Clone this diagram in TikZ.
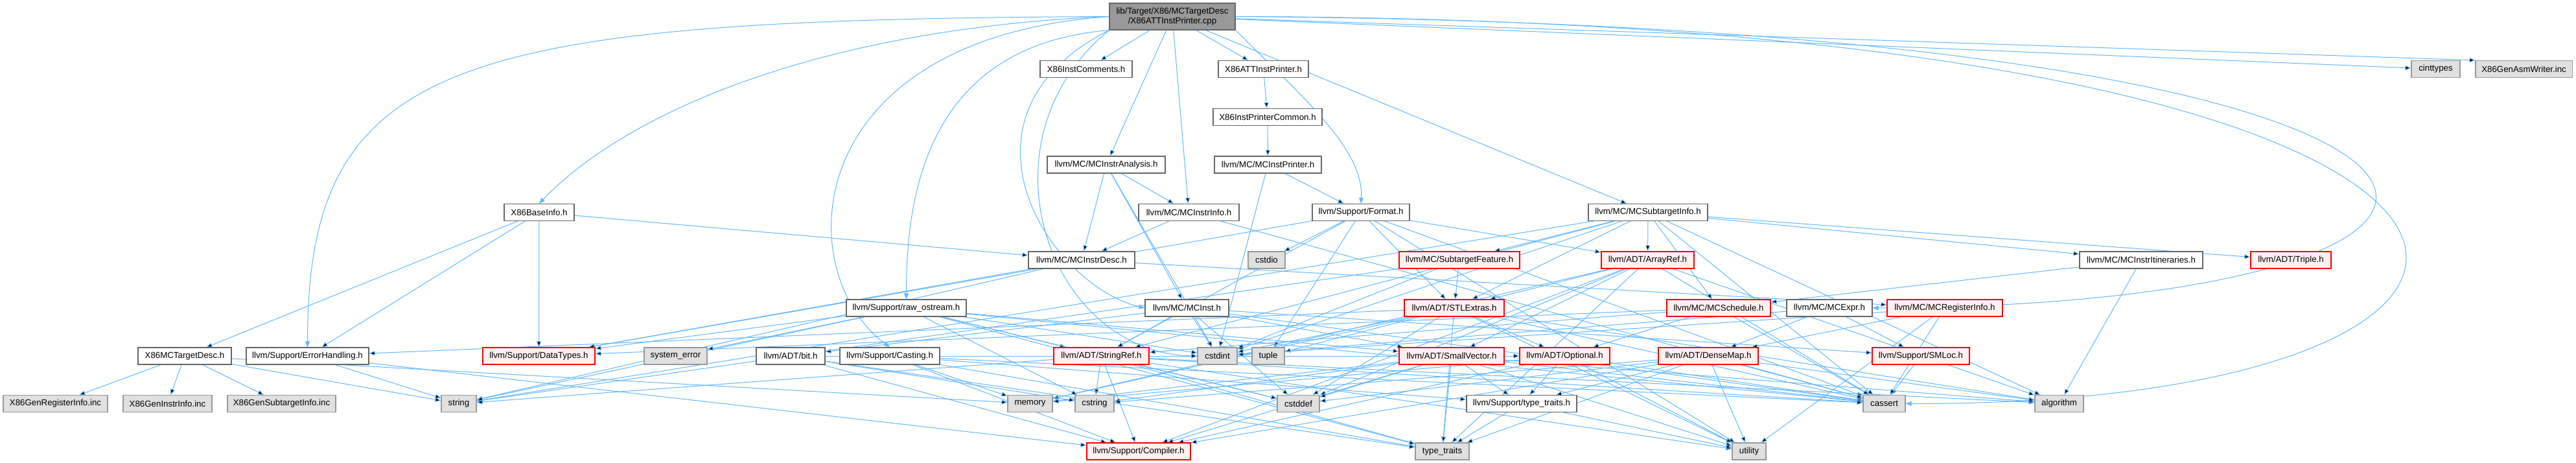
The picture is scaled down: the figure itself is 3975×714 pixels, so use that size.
\documentclass[tikz,border=0pt]{standalone}
\usepackage{fontspec}
\setmainfont{Liberation Sans}
\usepackage{tikz}
\usetikzlibrary{arrows.meta}
\definecolor{depline}{HTML}{63B8FF}
\definecolor{boxline}{HTML}{666666}
\definecolor{sysline}{HTML}{999999}
\definecolor{sysfill}{HTML}{E0E0E0}
\definecolor{srcfill}{HTML}{999999}
\definecolor{cutfill}{HTML}{FFF0F0}
\pgfdeclarelayer{back}
\pgfsetlayers{back,main}

\begin{document}
\begin{tikzpicture}[x=1pt,y=1pt,font=\fontsize{13.3}{15.5}\selectfont,
  hdr/.style={draw=boxline,fill=white,line width=1.1pt,minimum height=26pt,
              inner sep=0pt},
  sys/.style={hdr,draw=sysline,fill=sysfill},
  cut/.style={hdr,draw=red,fill=cutfill},
  src/.style={hdr,fill=srcfill,minimum height=41pt,align=center},
  wd/.style={minimum width=#1pt},
  dep/.style={-{Triangle[length=9pt,width=7pt]},draw=depline,line width=1pt},
]
\useasboundingbox (0,0) rectangle (3975,-714);

\node[src,wd=194] (root) at (1809,-25.5) {lib/Target/X86/MCTargetDesc\\/X86ATTInstPrinter.cpp};

\node[hdr,wd=142] (comments) at (1676,-106.5) {X86InstComments.h};
\node[hdr,wd=139] (attprinter) at (1949.5,-106.5) {X86ATTInstPrinter.h};
\node[sys,wd=75] (cinttypes) at (3758.5,-106.5) {cinttypes};
\node[sys,wd=149] (asmwriter) at (3894.5,-106.5) {X86GenAsmWriter.inc};

\node[hdr,wd=168] (printercommon) at (1956,-180.5) {X86InstPrinterCommon.h};

\node[hdr,wd=182] (instranalysis) at (1707,-254) {llvm/MC/MCInstrAnalysis.h};
\node[hdr,wd=165] (instprinter) at (1956.5,-254) {llvm/MC/MCInstPrinter.h};

\node[hdr,wd=108] (baseinfo) at (832,-327.5) {X86BaseInfo.h};
\node[hdr,wd=155] (instrinfo) at (1834.5,-327.5) {llvm/MC/MCInstrInfo.h};
\node[hdr,wd=150] (format) at (2100,-327.5) {llvm/Support/Format.h};
\node[hdr,wd=184] (subtarget) at (2543,-327.5) {llvm/MC/MCSubtargetInfo.h};

\node[hdr,wd=164] (instrdesc) at (1669,-401) {llvm/MC/MCInstrDesc.h};
\node[sys,wd=57] (cstdio) at (1954.5,-401) {cstdio};
\node[cut,wd=186] (feature) at (2252,-401) {llvm/MC/SubtargetFeature.h};
\node[cut,wd=143] (arrayref) at (2542.5,-401) {llvm/ADT/ArrayRef.h};
\node[hdr,wd=190] (itin) at (3304,-401) {llvm/MC/MCInstrItineraries.h};
\node[cut,wd=124] (triple) at (3535,-401) {llvm/ADT/Triple.h};

\node[hdr,wd=185] (rawos) at (1398.5,-475) {llvm/Support/raw\_ostream.h};
\node[hdr,wd=129] (mcinst) at (1831.5,-475) {llvm/MC/MCInst.h};
\node[cut,wd=154] (stlextras) at (2244,-475) {llvm/ADT/STLExtras.h};
\node[cut,wd=160] (schedule) at (2652,-475) {llvm/MC/MCSchedule.h};
\node[hdr,wd=132] (mcexpr) at (2823,-475) {llvm/MC/MCExpr.h};
\node[cut,wd=178] (reginfo) at (3001,-475) {llvm/MC/MCRegisterInfo.h};

\node[hdr,wd=144] (targetdesc) at (285,-549) {X86MCTargetDesc.h};
\node[hdr,wd=189] (errhandling) at (474.5,-549) {llvm/Support/ErrorHandling.h};
\node[cut,wd=173] (datatypes) at (831.5,-549) {llvm/Support/DataTypes.h};
\node[sys,wd=97] (syserror) at (1042.5,-549) {system\_error};
\node[hdr,wd=106] (bit) at (1220,-549) {llvm/ADT/bit.h};
\node[hdr,wd=154] (casting) at (1373,-549) {llvm/Support/Casting.h};
\node[cut,wd=147] (stringref) at (1699.5,-549) {llvm/ADT/StringRef.h};
\node[sys,wd=61] (cstdint) at (1878.5,-549) {cstdint};
\node[sys,wd=50] (tuple) at (1957,-549) {tuple};
\node[cut,wd=162] (smallvector) at (2240,-549) {llvm/ADT/SmallVector.h};
\node[cut,wd=139] (optional) at (2414.5,-549) {llvm/ADT/Optional.h};
\node[cut,wd=154] (densemap) at (2636,-549) {llvm/ADT/DenseMap.h};
\node[cut,wd=150] (smloc) at (2964,-549) {llvm/Support/SMLoc.h};

\node[sys,wd=161] (genreg) at (85.5,-622.5) {X86GenRegisterInfo.inc};
\node[sys,wd=137] (geninstr) at (258.5,-622.5) {X86GenInstrInfo.inc};
\node[sys,wd=167] (gensub) at (434.5,-622.5) {X86GenSubtargetInfo.inc};
\node[sys,wd=54] (string) at (708,-622.5) {string};
\node[sys,wd=69] (memory) at (1589.5,-622.5) {memory};
\node[sys,wd=60] (cstring) at (1689,-622.5) {cstring};
\node[sys,wd=65] (cstddef) at (2003.5,-622.5) {cstddef};
\node[hdr,wd=170] (tthdr) at (2348,-622.5) {llvm/Support/type\_traits.h};
\node[sys,wd=65] (cassert) at (2907.5,-622.5) {cassert};
\node[sys,wd=75] (algorithm) at (3177.5,-622.5) {algorithm};

\node[cut,wd=160] (compiler) at (1757,-696) {llvm/Support/Compiler.h};
\node[sys,wd=83] (typetraits) at (2225.5,-696) {type\_traits};
\node[sys,wd=52] (utility) at (2699,-696) {utility};

\begin{pgfonlayer}{back}
\fill[white] (0,0) rectangle (3975,-714);
\path[dep] (root) edge (attprinter) edge (comments) edge (instranalysis)
  edge (instrinfo) edge (subtarget) edge (cinttypes) edge (asmwriter.north west);
\draw[dep] (root.south east) .. controls (2010,-150) and (2105,-230) .. (format.north);
\draw[dep] (root.west) .. controls (1250,-45) and (960,-180) .. (baseinfo.north);
\draw[dep] (root.west) .. controls (700,-30) and (474.5,-90) .. (errhandling.north);
\draw[dep] (root.south west) .. controls (1430,-70) and (1398.5,-300) .. (rawos.north);
\draw[dep] (root.west) .. controls (1230,-60) and (1218,-420) .. (casting.north);
\draw[dep] (root.south west) .. controls (1449,-180) and (1620,-440) .. (mcinst.west);
\draw[dep] (root.south west) .. controls (1501,-220) and (1620,-545) .. (cstdint.west);
\draw[dep] (root.east) .. controls (4050,-40) and (4050,-470) .. (mcexpr.east);
\draw[dep] (root.east) .. controls (4100,-30) and (4100,-625) .. (cassert.east);
\path[dep] (attprinter) edge (printercommon);
\path[dep] (printercommon) edge (instprinter);
\path[dep] (instprinter) edge (format) edge (cstdint);
\path[dep] (format) edge (arrayref) edge (stlextras) edge (stringref)
  edge (datatypes) edge (cassert) edge (cstdio) edge (tuple) edge (utility);
\path[dep] (baseinfo) edge (targetdesc) edge (instrdesc) edge (datatypes)
  edge (errhandling);
\path[dep] (targetdesc) edge (genreg) edge (geninstr) edge (gensub)
  edge (string) edge (memory);
\path[dep] (mcexpr) edge (densemap) edge (smloc) edge (cstdint);
\path[dep] (mcinst) edge (smallvector) edge (stringref) edge (smloc)
  edge (cassert) edge (cstddef) edge (cstdint) edge (bit);
\path[dep] (instranalysis) edge (mcinst) edge (instrdesc) edge (instrinfo)
  edge (cstdint);
\path[dep] (instrinfo) edge (instrdesc) edge (cassert);
\path[dep] (instrdesc) edge (reginfo) edge (datatypes) edge (string);
\path[dep] (subtarget) edge (arrayref) edge (stlextras) edge (stringref)
  edge (triple) edge (itin) edge (schedule) edge (feature) edge (algorithm)
  edge (cassert) edge (cstdint) edge (string);
\path[dep] (feature) edge (stlextras) edge (string) edge (cstdint);
\path[dep] (arrayref) edge (smallvector) edge (stlextras) edge (compiler)
  edge (algorithm) edge (cassert) edge (cstddef) edge (memory) edge (typetraits);
\path[dep] (stlextras) edge (optional) edge (errhandling) edge (algorithm)
  edge (cassert) edge (cstddef) edge (cstdint) edge (memory) edge (tuple)
  edge (typetraits) edge (utility);
\path[dep] (stringref) edge (compiler) edge (algorithm) edge (cassert)
  edge (cstddef) edge (cstring) edge (string) edge (typetraits) edge (utility);
\path[dep] (smallvector) edge (compiler) edge (tthdr) edge (algorithm)
  edge (cassert) edge (cstddef) edge (cstring) edge (memory) edge (typetraits)
  edge (utility);
\path[dep] (optional) edge (compiler) edge (tthdr) edge (cassert)
  edge (memory) edge (utility);
\path[dep] (densemap) edge (compiler) edge (tthdr) edge (algorithm)
  edge (cassert) edge (cstddef) edge (cstring) edge (typetraits) edge (utility);
\path[dep] (smloc) edge (cassert);
\path[dep] (reginfo) edge (densemap) edge (cassert) edge (cstdint) edge (utility);
\path[dep] (schedule) edge (optional) edge (stringref) edge (datatypes)
  edge (cassert);
\path[dep] (itin) edge (schedule) edge (algorithm);
\path[dep] (rawos) edge (smallvector) edge (stringref) edge (datatypes)
  edge (cassert) edge (cstddef) edge (cstdint) edge (cstring) edge (string)
  edge (syserror) edge (typetraits);
\path[dep] (casting) edge (optional) edge (compiler) edge (tthdr)
  edge (cassert) edge (memory) edge (typetraits);
\path[dep] (errhandling) edge (compiler) edge (string);
\path[dep] (bit) edge (compiler) edge (cstdint) edge (cstring) edge (typetraits);
\path[dep] (tthdr) edge (typetraits) edge (utility);
\end{pgfonlayer}
\end{tikzpicture}
\end{document}
